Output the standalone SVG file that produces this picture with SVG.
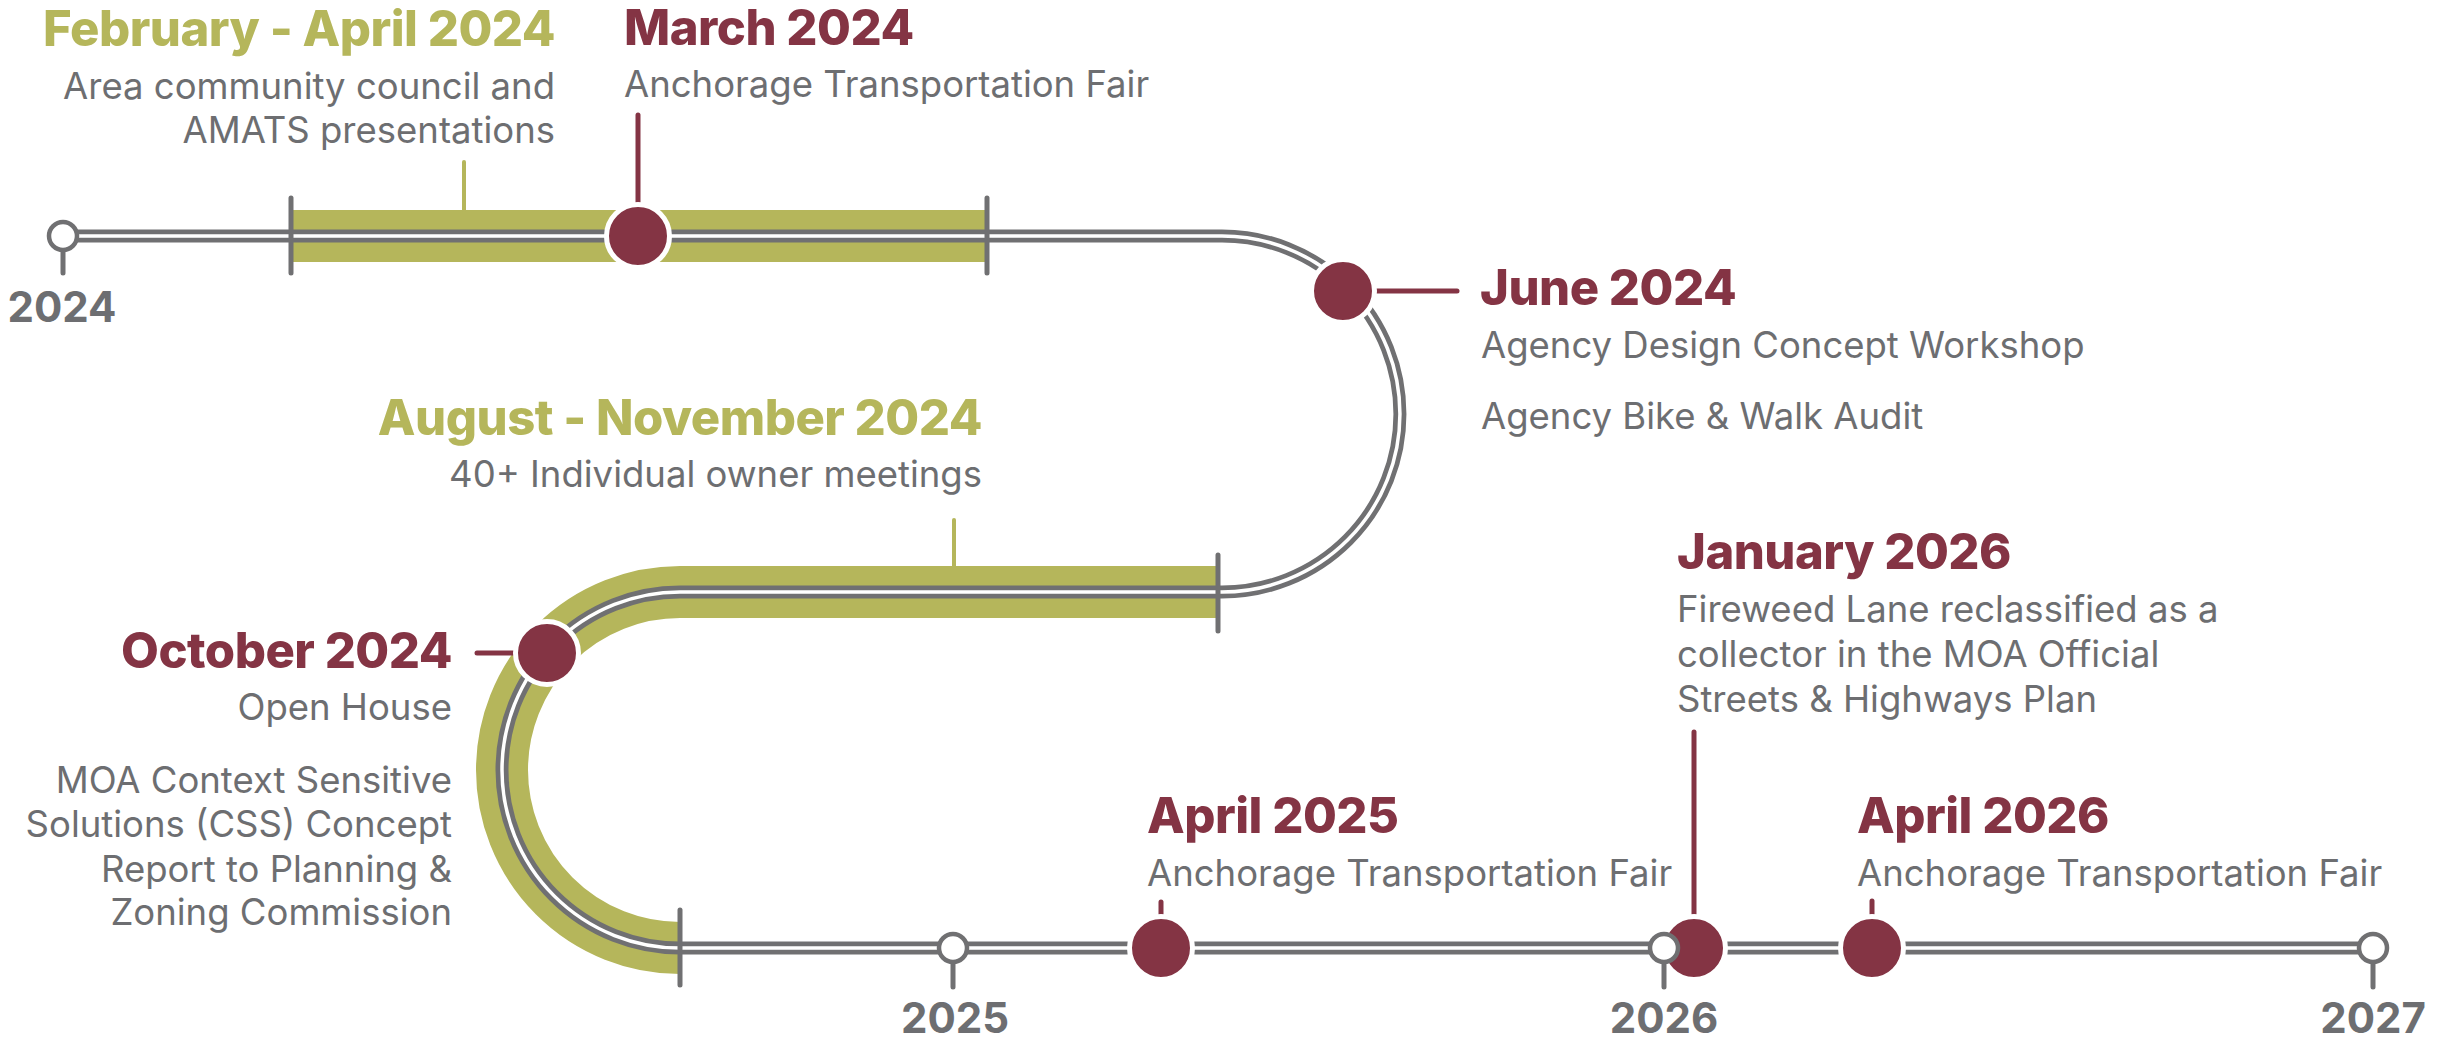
<svg xmlns="http://www.w3.org/2000/svg" width="2448" height="1040" viewBox="0 0 2448 1040">
<style>
.bg{fill:#ffffff}
.band{fill:none;stroke:#b5b65b;stroke-width:52;stroke-linecap:butt}
.bandr{fill:#b5b65b}
.trackg{fill:none;stroke:#707072;stroke-width:13}
.trackw{fill:none;stroke:#ffffff;stroke-width:3.5}
.tick{stroke:#707072;stroke-width:5;stroke-linecap:round}
.open{fill:#ffffff;stroke:#707072;stroke-width:4.5}
.dot{fill:#843444;stroke:#ffffff;stroke-width:5}
.mstem{stroke:#843444;stroke-width:5;stroke-linecap:round}
.gstem{stroke:#b5b65b;stroke-width:4;stroke-linecap:round}
.hm{font-family:Inter,"Liberation Sans",sans-serif;font-weight:800;font-size:49px;fill:#843444;letter-spacing:-0.5px}
.hg{font-family:Inter,"Liberation Sans",sans-serif;font-weight:800;font-size:49px;fill:#b5b65b;letter-spacing:-0.5px}
.body{font-family:Inter,"Liberation Sans",sans-serif;font-weight:400;font-size:36.5px;fill:#6d6e71}
.yr{font-family:Inter,"Liberation Sans",sans-serif;font-weight:700;font-size:42px;fill:#6d6e71;text-anchor:middle}
.r{text-anchor:end}
</style>
<rect class="bg" x="0" y="0" width="2448" height="1040"/>

<g id="connectors">
  <rect class="bandr" x="291" y="210" width="696" height="52"/>
  <path class="band" d="M1218,592 H680 A178,178 0 0 0 680,948"/>
  <path class="trackg" d="M63,236 H1222 A178,178 0 0 1 1222,592 H680 A178,178 0 0 0 680,948 H2373"/>
  <path class="trackw" d="M63,236 H1222 A178,178 0 0 1 1222,592 H680 A178,178 0 0 0 680,948 H2373"/>
  <line class="tick" x1="291" y1="198" x2="291" y2="273"/>
  <line class="tick" x1="987" y1="198" x2="987" y2="273"/>
  <line class="tick" x1="1218" y1="555" x2="1218" y2="631"/>
  <line class="tick" x1="680" y1="910" x2="680" y2="985"/>
</g>

<g id="year-2024">
  <line class="tick" x1="63" y1="250" x2="63" y2="273"/>
  <circle class="open" cx="63" cy="236" r="14"/>
  <text class="yr" x="62" y="322">2024</text>
</g>

<g id="feb-apr-2024">
  <line class="gstem" x1="464" y1="162" x2="464" y2="210"/>
  <text class="hg r" x="555" y="46">February - April 2024</text>
  <text class="body r" x="555" y="99">Area community council and</text>
  <text class="body r" x="555" y="143">AMATS presentations</text>
</g>

<g id="mar-2024">
  <line class="mstem" x1="638" y1="115" x2="638" y2="206"/>
  <circle class="dot" cx="638" cy="236" r="31.5"/>
  <text class="hm" x="624" y="45">March 2024</text>
  <text class="body" x="624" y="97">Anchorage Transportation Fair</text>
</g>

<g id="jun-2024">
  <line class="mstem" x1="1372" y1="291" x2="1457" y2="291"/>
  <circle class="dot" cx="1343" cy="291" r="31.5"/>
  <text class="hm" x="1480" y="305">June 2024</text>
  <text class="body" x="1481" y="358">Agency Design Concept Workshop</text>
  <text class="body" x="1481" y="429">Agency Bike &amp; Walk Audit</text>
</g>

<g id="aug-nov-2024">
  <line class="gstem" x1="954" y1="520" x2="954" y2="566"/>
  <text class="hg r" x="982" y="435">August - November 2024</text>
  <text class="body r" x="982" y="487">40+ Individual owner meetings</text>
</g>

<g id="oct-2024">
  <line class="mstem" x1="477" y1="653" x2="520" y2="653"/>
  <circle class="dot" cx="547" cy="653" r="31.5"/>
  <text class="hm r" x="452" y="668">October 2024</text>
  <text class="body r" x="452" y="720">Open House</text>
  <text class="body r" x="452" y="793">MOA Context Sensitive</text>
  <text class="body r" x="452" y="837">Solutions (CSS) Concept</text>
  <text class="body r" x="452" y="882">Report to Planning &amp;</text>
  <text class="body r" x="452" y="925">Zoning Commission</text>
</g>

<g id="year-2025">
  <line class="tick" x1="953" y1="963" x2="953" y2="987"/>
  <circle class="open" cx="953" cy="948" r="14"/>
  <text class="yr" x="955" y="1033">2025</text>
</g>

<g id="apr-2025">
  <line class="mstem" x1="1161" y1="902" x2="1161" y2="920"/>
  <circle class="dot" cx="1161" cy="948" r="31.5"/>
  <text class="hm" x="1147" y="833">April 2025</text>
  <text class="body" x="1147" y="886">Anchorage Transportation Fair</text>
</g>

<g id="jan-2026">
  <line class="mstem" x1="1694" y1="732" x2="1694" y2="920"/>
  <circle class="dot" cx="1694" cy="948" r="31.5"/>
  <text class="hm" x="1677" y="569">January 2026</text>
  <text class="body" x="1677" y="622">Fireweed Lane reclassified as a</text>
  <text class="body" x="1677" y="667">collector in the MOA Official</text>
  <text class="body" x="1677" y="712">Streets &amp; Highways Plan</text>
</g>

<g id="year-2026">
  <line class="tick" x1="1664" y1="963" x2="1664" y2="987"/>
  <circle class="open" cx="1664" cy="948" r="14"/>
  <text class="yr" x="1664" y="1033">2026</text>
</g>

<g id="apr-2026">
  <line class="mstem" x1="1872" y1="901" x2="1872" y2="920"/>
  <circle class="dot" cx="1872" cy="948" r="31.5"/>
  <text class="hm" x="1857" y="833">April 2026</text>
  <text class="body" x="1857" y="886">Anchorage Transportation Fair</text>
</g>

<g id="year-2027">
  <line class="tick" x1="2373" y1="963" x2="2373" y2="987"/>
  <circle class="open" cx="2373" cy="948" r="14"/>
  <text class="yr" x="2373" y="1033">2027</text>
</g>
</svg>
